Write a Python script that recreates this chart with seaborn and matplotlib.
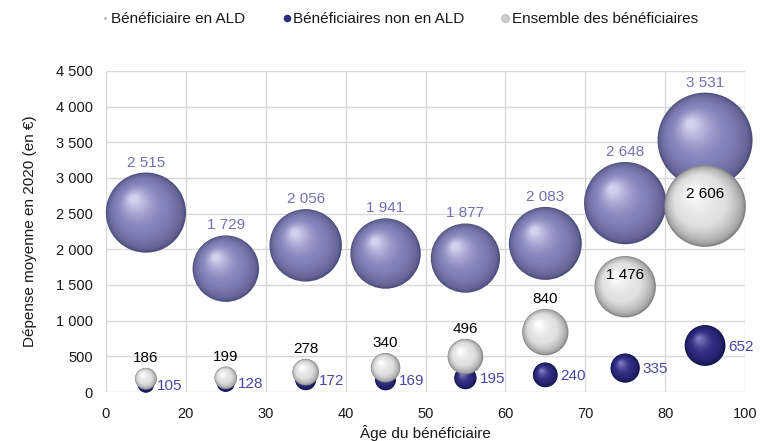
import numpy as np
import matplotlib
matplotlib.use("Agg")
import matplotlib.pyplot as plt
from matplotlib.markers import MarkerStyle
from matplotlib.transforms import Affine2D
from matplotlib.lines import Line2D
from matplotlib.colors import to_rgb
import seaborn as sns

# Age group boundaries (tick labels) and mean spending per group, in euros
age_bounds = ["0", "20", "30", "40", "50", "60", "70", "80", "100"]
ald = [2515, 1729, 2056, 1941, 1877, 2083, 2648, 3531]
non_ald = [105, 128, 172, 169, 195, 240, 335, 652]
ensemble = [186, 199, 278, 340, 496, 840, 1476, 2606]
series_names = ["Bénéficiaire en ALD", "Bénéficiaires non en ALD",
                "Ensemble des bénéficiaires"]
y_ticks = [0, 500, 1000, 1500, 2000, 2500, 3000, 3500, 4000, 4500]

# Sphere colour ramps: rim, body, highlight
ramps = {
    "ald": ("#50507f", "#8282ba", "#d2d2f0"),
    "non": ("#141249", "#2e2b80", "#7a77be"),
    "ens": ("#858585", "#e0e0e0", "#ffffff"),
}
label_colors = {"ald": "#7471b3", "non": "#4b45a3", "ens": "#000000"}

BUBBLE_SCALE = 1.325   # marker area (pt^2) per euro
N_LAYERS = 26
HIGHLIGHT = (-0.3, 0.34)

sns.set_theme(style="white")
plt.rcParams["font.family"] = ["Liberation Sans", "DejaVu Sans"]

fig = plt.figure(figsize=(7.68, 4.41), dpi=100)
ax = fig.add_axes([106 / 768, 1 - 392 / 441, 639 / 768, 321 / 441])
ax.set_xlim(0, len(age_bounds) - 1)
ax.set_ylim(0, 4500)


def fmt(v):
    return f"{v:,}".replace(",", " ")


def ramp_color(ramp, t):
    rim, body, hi = (np.array(to_rgb(c)) for c in ramp)
    if t < 0.4:
        u = t / 0.4
        return tuple(rim + (body - rim) * u ** 0.55)
    u = (t - 0.4) / 0.6
    return tuple(body + (hi - body) * u ** 1.5)


def draw_spheres(values, ramp, z):
    x = np.arange(len(values)) + 0.5
    s = np.asarray(values, dtype=float) * BUBBLE_SCALE
    for k in range(N_LAYERS):
        t = k / (N_LAYERS - 1)
        f = 1 - 0.9 * t
        tr = Affine2D().scale(f).translate(0.5 * HIGHLIGHT[0] * t,
                                           0.5 * HIGHLIGHT[1] * t)
        sns.scatterplot(x=x, y=values, s=s, ax=ax,
                        marker=MarkerStyle("o", transform=tr),
                        color=ramp_color(ramp, t), linewidth=0,
                        zorder=z + k * 0.001, clip_on=False, legend=False)
    return x, s


x_ald, s_ald = draw_spheres(ald, ramps["ald"], 3)
x_non, s_non = draw_spheres(non_ald, ramps["non"], 4)
x_ens, s_ens = draw_spheres(ensemble, ramps["ens"], 5)

px_to_pt = 72 / fig.dpi
LABEL_SIZE = 11


def radius_px(s):
    return 0.5 * np.sqrt(s) / px_to_pt


# Value labels
for xi, v, s in zip(x_ald, ald, s_ald):
    off = (radius_px(s) + 10) * px_to_pt
    ax.annotate(fmt(v), (xi, v), xytext=(0, off), textcoords="offset points",
                ha="center", va="center", fontsize=LABEL_SIZE,
                color=label_colors["ald"], zorder=10)

for xi, v, s in zip(x_non, non_ald, s_non):
    off = (radius_px(s) + 3) * px_to_pt
    ax.annotate(fmt(v), (xi, v), xytext=(off, -1), textcoords="offset points",
                ha="left", va="center", fontsize=LABEL_SIZE,
                color=label_colors["non"], zorder=10)

for xi, v, s, va_, sa in zip(x_ens, ensemble, s_ens, ald, s_ald):
    r = radius_px(s)
    y_px = ax.transData.transform((xi, v))[1]
    ald_bottom = ax.transData.transform((xi, va_))[1] - radius_px(sa)
    above = y_px + r + 10
    if above + 7 > ald_bottom:
        off = 12 * px_to_pt          # no room above: write inside the sphere
    else:
        off = (above - y_px) * px_to_pt
    ax.annotate(fmt(v), (xi, v), xytext=(0, off), textcoords="offset points",
                ha="center", va="center", fontsize=LABEL_SIZE,
                color=label_colors["ens"], zorder=10)

# Axes styling
ax.set_xticks(range(len(age_bounds)))
ax.set_xticklabels(age_bounds)
ax.set_yticks(y_ticks)
ax.set_yticklabels([fmt(v) for v in y_ticks])
ax.grid(True, color="#d9d9d9", linewidth=1)
ax.set_axisbelow(True)
for sp in ax.spines.values():
    sp.set_visible(False)
ax.tick_params(axis="both", length=0, labelsize=10.5, colors="#1a1a1a")
ax.tick_params(axis="y", pad=9.5)
ax.tick_params(axis="x", pad=11)

ax.set_xlabel("Âge du bénéficiaire", fontsize=11, color="#1a1a1a")
ax.set_ylabel("Dépense moyenne en 2020 (en €)", fontsize=11, color="#1a1a1a")
ax.xaxis.set_label_coords(0.5, -0.104)
ax.yaxis.set_label_coords(-0.108, 0.5)

# Legend
handles = [
    Line2D([], [], linestyle="none", marker="o", markersize=2,
           markerfacecolor="#b0b0c8", markeredgewidth=0),
    Line2D([], [], linestyle="none", marker="o", markersize=5.5,
           markerfacecolor=ramps["non"][1], markeredgewidth=0),
    Line2D([], [], linestyle="none", marker="o", markersize=5.5,
           markerfacecolor="#d0d0d0", markeredgecolor="#a0a0a0",
           markeredgewidth=0.5),
]
fig.legend(handles, series_names, loc="center", ncol=3, frameon=False,
           bbox_to_anchor=(400 / 768, 1 - 19 / 441), fontsize=11,
           handlelength=0.4, handletextpad=0.2, columnspacing=2.5,
           labelcolor="#1a1a1a")

fig.savefig("out.png", dpi=100)
